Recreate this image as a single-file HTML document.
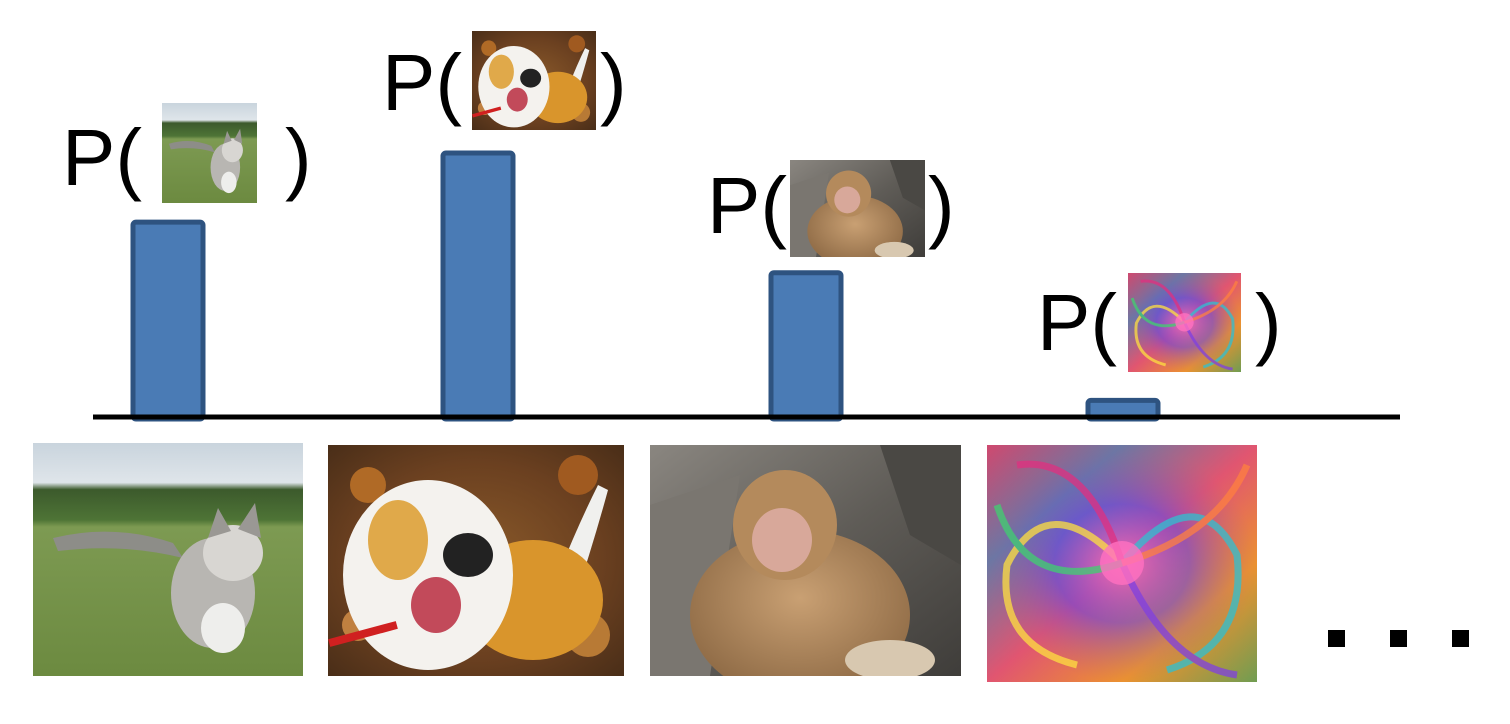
<!DOCTYPE html>
<html><head><meta charset="utf-8"><style>
html,body{margin:0;padding:0;background:#fff;}
svg{display:block;font-family:"Liberation Sans",Arial,sans-serif;}
</style></head><body>
<svg id="chart" width="1510" height="724" viewBox="0 0 1510 724" xmlns="http://www.w3.org/2000/svg">
<defs>
  <linearGradient id="catBg" x1="0" y1="0" x2="0" y2="1">
    <stop offset="0" stop-color="#c9d4dd"/><stop offset="0.17" stop-color="#dfe5ea"/>
    <stop offset="0.2" stop-color="#3c5a2c"/><stop offset="0.33" stop-color="#4e7436"/>
    <stop offset="0.36" stop-color="#7d9a52"/><stop offset="1" stop-color="#6c8a40"/>
  </linearGradient>
  <radialGradient id="dogBg" cx="0.5" cy="0.5" r="0.7">
    <stop offset="0" stop-color="#8a5a2a"/><stop offset="0.6" stop-color="#6b4020"/><stop offset="1" stop-color="#4a2e18"/>
  </radialGradient>
  <linearGradient id="rockBg" x1="0" y1="0" x2="1" y2="1">
    <stop offset="0" stop-color="#8a8680"/><stop offset="0.5" stop-color="#5f5c57"/><stop offset="1" stop-color="#3f3d3a"/>
  </linearGradient>
  <radialGradient id="monkeyFur" cx="0.5" cy="0.4" r="0.6">
    <stop offset="0" stop-color="#c9a073"/><stop offset="1" stop-color="#8e6a45"/>
  </radialGradient>
  <linearGradient id="swirlA" x1="0" y1="0" x2="1" y2="1">
    <stop offset="0" stop-color="#c8388a"/><stop offset="0.25" stop-color="#3a7bd5"/>
    <stop offset="0.5" stop-color="#e14a8c"/><stop offset="0.75" stop-color="#f0a030"/><stop offset="1" stop-color="#40b060"/>
  </linearGradient>
  <radialGradient id="swirlB" cx="0.5" cy="0.5" r="0.5">
    <stop offset="0" stop-color="#ff6fb0" stop-opacity="0.9"/><stop offset="0.5" stop-color="#6a4cd0" stop-opacity="0.6"/><stop offset="1" stop-color="#e07030" stop-opacity="0.3"/>
  </radialGradient>
  <symbol id="img-cat" viewBox="0 0 270 233" preserveAspectRatio="none">
    <rect width="270" height="233" fill="url(#catBg)"/>
    <path d="M20 95 Q80 80 140 100 L150 115 Q90 100 25 108Z" fill="#8d8d88"/>
    <ellipse cx="180" cy="150" rx="42" ry="55" fill="#b8b6b2"/>
    <ellipse cx="200" cy="110" rx="30" ry="28" fill="#d8d6d2"/>
    <polygon points="175,95 185,65 198,88" fill="#9a9894"/><polygon points="205,86 222,60 228,95" fill="#9a9894"/>
    <ellipse cx="190" cy="185" rx="22" ry="25" fill="#eeeeec"/>
  </symbol>
  <symbol id="img-dog" viewBox="0 0 296 231" preserveAspectRatio="none">
    <rect width="296" height="231" fill="url(#dogBg)"/>
    <circle cx="40" cy="40" r="18" fill="#b06a26"/><circle cx="250" cy="30" r="20" fill="#a05a20"/>
    <circle cx="260" cy="190" r="22" fill="#b87a35"/><circle cx="30" cy="180" r="16" fill="#c08040"/>
    <path d="M230 130 Q250 80 270 40 L280 45 Q265 100 245 160Z" fill="#f0f0ee"/>
    <ellipse cx="205" cy="155" rx="70" ry="60" fill="#d9952c"/>
    <ellipse cx="100" cy="130" rx="85" ry="95" fill="#f4f2ee"/>
    <ellipse cx="70" cy="95" rx="30" ry="40" fill="#e0a94a"/>
    <ellipse cx="140" cy="110" rx="25" ry="22" fill="#222"/>
    <ellipse cx="108" cy="160" rx="25" ry="28" fill="#c24a5a"/>
    <rect x="0" y="185" width="70" height="8" fill="#d02020" transform="rotate(-15 35 189)"/>
  </symbol>
  <symbol id="img-monkey" viewBox="0 0 311 231" preserveAspectRatio="none">
    <rect width="311" height="231" fill="url(#rockBg)"/>
    <path d="M0 60 L90 30 L60 231 L0 231Z" fill="#7a7670"/>
    <path d="M230 0 L311 0 L311 120 L260 90Z" fill="#4a4844"/>
    <ellipse cx="150" cy="170" rx="110" ry="85" fill="url(#monkeyFur)"/>
    <ellipse cx="135" cy="80" rx="52" ry="55" fill="#b48a5c"/>
    <ellipse cx="132" cy="95" rx="30" ry="32" fill="#d8a89a"/>
    <ellipse cx="240" cy="215" rx="45" ry="20" fill="#d8c8b0"/>
  </symbol>
  <symbol id="img-swirl" viewBox="0 0 270 237" preserveAspectRatio="none">
    <rect width="270" height="237" fill="url(#swirlA)"/>
    <rect width="270" height="237" fill="url(#swirlB)"/>
    <g fill="none" stroke-width="7" opacity="0.75">
      <path d="M135 118 Q60 40 20 120 Q10 200 90 220" stroke="#ffe040"/>
      <path d="M135 118 Q210 30 250 110 Q260 200 180 225" stroke="#30c0d0"/>
      <path d="M135 118 Q100 10 30 20" stroke="#e03080"/>
      <path d="M135 118 Q180 220 250 230" stroke="#8040e0"/>
      <path d="M135 118 Q40 150 10 60" stroke="#40d070"/>
      <path d="M135 118 Q230 90 260 20" stroke="#ff8040"/>
    </g>
    <circle cx="135" cy="118" r="22" fill="#ff70c0" opacity="0.8"/>
  </symbol>
</defs>
<g id="bars"></g>
<line x1="93" y1="417" x2="1400" y2="417" stroke="#000" stroke-width="5"/>
<g id="labels"></g>
<g id="photos"></g>
<g fill="#000">
  <rect x="1328" y="630" width="17" height="17"/><rect x="1390" y="630" width="17" height="17"/><rect x="1452" y="630" width="17" height="17"/>
</g>
</svg>
<script>
const categories = ["cat", "dog", "monkey", "swirl"];
const probabilities = [0.74, 1.0, 0.55, 0.07];
const NS = "http://www.w3.org/2000/svg";
const baseY = 419, scaleH = 266;
const barX = [133, 443, 771, 1088];
const barW = 70;
const yScale = v => baseY - v * scaleH;
const thumbs = [[162,103,95,100],[472,31,124,99],[790,160,135,97],[1128,273,113,99]];
const openX = [62, 382, 707, 1037];
const textY = [185, 110, 233, 350];
const closeX = [285, 600, 928, 1255];
const photos = [[33,443,270,233],[328,445,296,231],[650,445,311,231],[987,445,270,237]];
const bars = document.getElementById("bars");
const labels = document.getElementById("labels");
const photoG = document.getElementById("photos");
categories.forEach((c, i) => {
  const top = yScale(probabilities[i]);
  const r = document.createElementNS(NS, "rect");
  r.setAttribute("x", barX[i]); r.setAttribute("y", top);
  r.setAttribute("width", barW); r.setAttribute("height", baseY - top);
  r.setAttribute("rx", 3); r.setAttribute("fill", "#4a7bb5");
  r.setAttribute("stroke", "#2e5380"); r.setAttribute("stroke-width", 5);
  
  
  bars.appendChild(r);
  const [tx, ty, tw, th] = thumbs[i];
  const g = document.createElementNS(NS, "g");
  
  
  const t1 = document.createElementNS(NS, "text");
  t1.setAttribute("x", openX[i]); t1.setAttribute("y", textY[i]);
  t1.setAttribute("font-size", "80"); t1.textContent = "P(";
  const u = document.createElementNS(NS, "use");
  u.setAttribute("href", "#img-" + c);
  u.setAttribute("x", tx); u.setAttribute("y", ty); u.setAttribute("width", tw); u.setAttribute("height", th);
  const t2 = document.createElementNS(NS, "text");
  t2.setAttribute("x", closeX[i]); t2.setAttribute("y", textY[i]);
  t2.setAttribute("font-size", "80"); t2.textContent = ")";
  g.appendChild(t1); g.appendChild(u); g.appendChild(t2);
  labels.appendChild(g);
  const [px, py, pw, ph] = photos[i];
  const p = document.createElementNS(NS, "use");
  p.setAttribute("href", "#img-" + c);
  p.setAttribute("x", px); p.setAttribute("y", py); p.setAttribute("width", pw); p.setAttribute("height", ph);
  
  
  photoG.appendChild(p);
});
</script>
</body></html>
